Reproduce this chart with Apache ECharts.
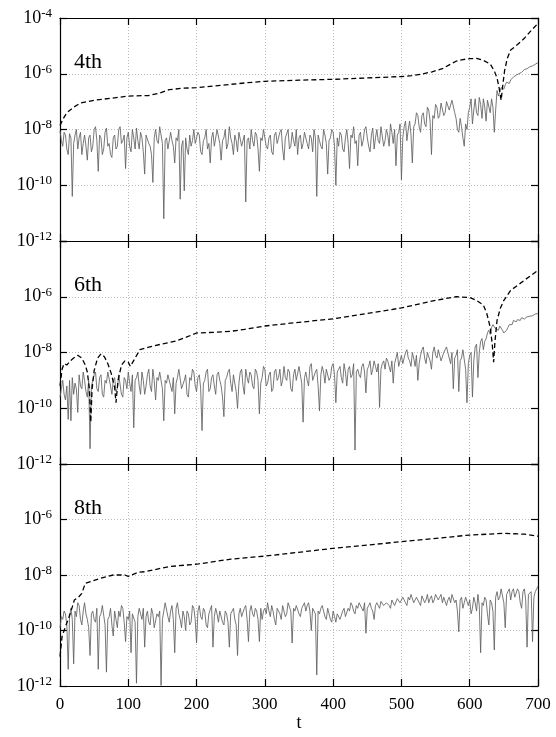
<!DOCTYPE html>
<html><head><meta charset="utf-8">
<script src="https://cdn.jsdelivr.net/npm/echarts@6/dist/echarts.min.js"></script>
<style>html,body{margin:0;padding:0;background:#fff}#c{width:556px;height:737px}</style>
</head><body><div id="c"></div>
<script>
// ---------------- data (values are log10 of the error) ----------------
const panelLabels = ['4th', '6th', '8th'];
const xAxisName = 't';
const tStepNoise = 2; // sampling step of the solid (noisy) curves, t = 0..700

const noise4th = [
-8.05,-8.4,-8.6,-8.1,-8.2,-8.7,-8.9,-8.15,-8.3,-10.4,-8.5,-8.2,-8.0,-8.7,-8.3,-8.1,-8.9,-8.5,-8.2,-8.6,
-9.1,-8.3,-8.2,-8.8,-8.6,-8.0,-7.9,-8.4,-9.5,-8.2,-8.3,-8.9,-8.7,-8.1,-7.95,-8.6,-8.5,-8.9,-9.0,-8.3,
-8.2,-8.7,-8.6,-8.0,-7.9,-8.5,-8.4,-8.2,-9.4,-8.3,-8.1,-8.6,-8.8,-8.0,-8.3,-8.7,-7.95,-8.4,-8.7,-8.1,
-8.3,-8.8,-9.6,-8.2,-8.2,-8.5,-8.6,-8.9,-9.9,-8.3,-8.0,-8.4,-8.5,-7.9,-7.85,-8.5,-11.2,-8.4,-8.3,-8.7,
-8.7,-8.1,-8.4,-8.6,-9.2,-8.3,-8.4,-8.0,-10.5,-8.6,-8.4,-10.2,-8.3,-8.7,-8.9,-8.2,-8.6,-8.4,-8.0,-8.5,
-8.5,-8.1,-8.2,-8.8,-8.9,-8.4,-8.3,-8.0,-8.7,-8.5,-9.2,-8.3,-8.1,-8.6,-8.6,-8.0,-8.0,-8.5,-9.1,-8.4,
-8.3,-8.0,-8.7,-8.5,-7.9,-8.3,-8.5,-8.9,-8.2,-8.4,-8.8,-8.1,-8.1,-8.6,-8.6,-8.2,-10.6,-8.4,-8.3,-8.7,
-8.0,-8.4,-8.6,-8.1,-8.2,-8.7,-9.5,-8.3,-8.4,-8.0,-8.0,-8.6,-8.7,-8.3,-8.2,-8.8,-8.9,-8.2,-8.1,-8.5,
-8.5,-8.1,-8.0,-8.7,-9.1,-8.3,-8.3,-8.0,-8.7,-8.6,-8.1,-8.4,-8.6,-8.0,-8.9,-8.3,-8.2,-8.7,-8.5,-8.1,
-8.1,-8.5,-8.7,-8.2,-8.3,-8.8,-8.0,-8.3,-10.4,-8.2,-8.4,-8.6,-8.7,-8.0,-8.2,-8.5,-9.6,-8.4,-8.3,-8.0,
-8.1,-8.6,-10.0,-8.3,-8.6,-8.1,-8.2,-8.7,-8.8,-8.3,-8.0,-8.5,-9.4,-8.2,-8.3,-7.9,-8.5,-8.4,-9.3,-8.2,
-8.1,-8.6,-8.4,-8.0,-7.9,-8.3,-8.6,-8.8,-8.2,-7.95,-8.7,-8.3,-8.0,-8.4,-8.5,-7.9,-7.9,-8.6,-8.4,-8.0,
-8.2,-8.6,-7.8,-8.1,-8.5,-8.0,-9.3,-8.2,-8.1,-7.8,-9.8,-8.3,-7.9,-7.7,-8.4,-8.0,-7.7,-8.2,-9.2,-7.9,
-7.8,-7.4,-7.5,-7.9,-8.1,-7.5,-7.4,-7.8,-7.9,-7.2,-7.3,-7.7,-8.9,-7.5,-7.6,-7.1,-7.2,-7.6,-7.5,-7.05,
-7.1,-7.5,-7.4,-7.0,-7.0,-7.3,-7.3,-6.95,-6.95,-7.4,-7.6,-8.0,-8.1,-7.6,-7.9,-8.3,-8.6,-7.8,-8.0,-7.4,
-7.2,-6.9,-7.8,-7.3,-6.9,-7.4,-7.5,-6.85,-7.1,-7.6,-6.9,-7.2,-7.7,-6.95,-7.0,-7.4,-6.9,-7.2,-8.1,-7.3,
-6.6,-6.8,-6.85,-6.5,-6.45,-6.55,-6.4,-6.3,-6.3,-6.35,-6.22,-6.15,-6.12,-6.1,-6.05,-6.02,-6.0,-5.96,-5.95,-5.9,
-5.85,-5.86,-5.82,-5.78,-5.75,-5.74,-5.72,-5.68,-5.66,-5.63,-5.6
];
const dashT4th = [0,5,10,20,30,50,75,100,130,145,160,180,200,225,250,275,300,350,400,450,500,515,530,545,560,570,580,590,600,610,620,630,636,640,643,646,648,651,655,660,670,680,690,700];
const dash4th  = [-7.86,-7.6,-7.4,-7.2,-7.05,-6.95,-6.88,-6.8,-6.78,-6.7,-6.57,-6.52,-6.5,-6.44,-6.38,-6.32,-6.27,-6.23,-6.2,-6.15,-6.1,-6.07,-6.01,-5.93,-5.82,-5.68,-5.55,-5.49,-5.46,-5.45,-5.52,-5.65,-5.9,-6.15,-6.5,-6.95,-6.5,-5.9,-5.45,-5.15,-4.95,-4.73,-4.45,-4.19];

const noise6th = [
-9.6,-9.3,-9.0,-9.5,-9.7,-9.2,-10.4,-9.0,-10.45,-8.9,-9.5,-9.1,-9.3,-10.15,-8.8,-9.2,-9.3,-8.7,-9.0,-9.4,
-9.6,-9.0,-11.45,-9.2,-9.0,-8.8,-8.7,-9.3,-9.4,-8.9,-8.8,-9.5,-9.6,-9.0,-9.1,-8.7,-8.7,-9.2,-9.5,-9.0,
-8.9,-9.4,-9.3,-8.8,-8.8,-9.5,-9.6,-8.9,-9.0,-9.3,-8.7,-9.1,-9.4,-8.8,-10.7,-9.0,-8.9,-8.7,-9.2,-9.5,
-8.7,-9.0,-9.5,-9.2,-8.8,-8.6,-9.2,-9.4,-8.6,-9.0,-9.7,-8.9,-9.0,-8.7,-8.7,-9.3,-10.45,-9.0,-9.1,-8.8,
-8.8,-9.2,-9.4,-8.9,-10.2,-9.1,-8.9,-8.6,-8.6,-9.3,-9.3,-9.0,-8.8,-9.5,-9.6,-8.9,-9.0,-8.6,-8.7,-9.2,
-9.4,-8.9,-8.8,-9.3,-10.8,-9.1,-9.0,-8.7,-8.6,-9.4,-9.3,-8.9,-8.8,-9.2,-9.5,-8.8,-8.7,-9.0,-9.2,-9.6,
-10.3,-9.0,-8.9,-8.7,-8.6,-9.1,-9.4,-8.8,-8.8,-9.4,-10.0,-9.1,-8.7,-8.6,-9.2,-9.5,-8.6,-8.9,-9.1,-8.7,
-8.8,-9.2,-9.3,-8.6,-8.7,-9.0,-10.2,-9.1,-8.9,-8.5,-8.6,-9.2,-9.1,-8.8,-8.7,-9.4,-9.3,-8.7,-8.6,-9.0,
-8.9,-8.6,-9.2,-9.0,-8.5,-8.9,-9.0,-8.6,-8.7,-9.3,-9.4,-8.8,-8.6,-9.0,-9.0,-8.5,-8.5,-9.1,-10.5,-8.9,
-8.7,-9.0,-9.2,-8.5,-8.4,-9.0,-9.0,-8.7,-8.6,-9.2,-10.1,-8.8,-8.5,-8.7,-9.1,-8.6,-8.6,-9.0,-8.9,-8.5,
-8.4,-8.8,-9.8,-8.7,-8.6,-8.5,-8.9,-9.1,-8.4,-8.7,-9.2,-8.6,-8.5,-8.9,-8.8,-8.4,-11.5,-8.7,-8.6,-8.8,
-8.9,-8.5,-8.4,-8.7,-9.45,-8.6,-8.5,-8.3,-8.8,-8.6,-8.3,-8.5,-8.7,-8.4,-9.97,-8.6,-8.4,-8.3,-8.6,-8.2,
-8.3,-8.5,-8.7,-8.3,-9.1,-8.4,-8.2,-8.0,-8.5,-8.3,-8.1,-8.4,-8.4,-8.0,-7.9,-8.2,-8.3,-8.5,-8.0,-8.2,
-8.5,-8.1,-9.0,-8.4,-8.1,-7.9,-7.8,-8.2,-8.4,-8.0,-8.0,-8.3,-8.6,-8.0,-7.8,-8.1,-8.2,-7.9,-7.9,-8.3,
-8.3,-8.0,-8.0,-7.8,-7.8,-8.2,-8.4,-8.0,-9.3,-8.2,-8.1,-7.9,-9.4,-8.3,-8.2,-7.9,-7.9,-8.6,-9.8,-8.4,
-8.1,-8.0,-9.6,-8.3,-7.8,-7.7,-8.9,-8.0,-7.6,-7.5,-7.9,-7.6,-7.5,-7.3,-7.2,-7.35,-7.1,-7.0,-7.0,-7.15,
-7.1,-7.2,-7.05,-7.1,-7.2,-7.3,-7.3,-7.2,-7.1,-7.0,-6.95,-7.0,-6.85,-6.9,-6.9,-6.82,-6.8,-6.85,-6.75,-6.78,
-6.8,-6.74,-6.72,-6.76,-6.7,-6.68,-6.68,-6.64,-6.62,-6.63,-6.6
];
const dashT6th = [0,3,6,10,15,20,26,32,37,40,43,45,47,50,55,60,65,70,75,80,82,85,90,95,100,103,110,117,130,150,170,185,200,230,250,270,300,330,400,450,500,550,580,600,610,620,625,630,633,635,637,640,645,650,660,680,700];
const dash6th  = [-9.2,-8.6,-8.4,-8.45,-8.3,-8.2,-8.1,-8.2,-8.45,-8.7,-9.3,-10.5,-9.3,-8.65,-8.2,-8.05,-8.15,-8.4,-8.75,-9.25,-9.8,-9.0,-8.45,-8.3,-8.35,-8.5,-8.2,-7.9,-7.81,-7.69,-7.59,-7.45,-7.3,-7.27,-7.24,-7.17,-7.05,-6.97,-6.79,-6.6,-6.4,-6.13,-6.0,-6.03,-6.13,-6.3,-6.6,-7.09,-7.7,-8.35,-7.6,-6.85,-6.4,-6.13,-5.77,-5.41,-5.05];

const noise8th = [
-9.9,-9.5,-9.6,-9.3,-9.4,-9.8,-11.4,-9.5,-9.2,-9.6,-11.2,-9.3,-9.5,-9.0,-9.1,-9.6,-9.8,-9.3,-9.0,-9.4,
-9.6,-9.9,-10.9,-9.4,-9.3,-9.6,-9.7,-9.2,-11.4,-9.5,-9.4,-9.1,-9.1,-9.8,-11.5,-9.6,-9.5,-9.2,-9.8,-10.2,
-9.3,-9.6,-9.9,-9.3,-9.5,-9.1,-9.2,-9.7,-10.4,-9.5,-9.6,-9.3,-10.8,-9.4,-9.4,-9.7,-11.9,-9.5,-9.2,-9.4,
-9.6,-9.2,-10.6,-9.5,-9.3,-9.7,-9.8,-9.2,-9.4,-9.9,-9.9,-9.4,-9.5,-9.3,-11.98,-9.6,-9.3,-9.0,-9.0,-9.5,
-9.7,-9.3,-9.1,-9.6,-10.8,-9.2,-9.0,-9.4,-9.6,-9.9,-9.3,-9.5,-10.0,-9.3,-9.4,-9.8,-9.7,-9.1,-9.2,-9.6,
-10.45,-9.3,-9.1,-9.5,-9.6,-9.2,-9.3,-9.8,-9.9,-9.4,-9.4,-9.1,-10.6,-9.5,-9.2,-9.4,-9.7,-9.3,-9.3,-9.7,
-9.8,-9.3,-9.4,-9.7,-10.6,-9.4,-9.3,-9.2,-9.6,-9.8,-10.9,-9.4,-9.2,-9.5,-9.5,-9.2,-9.1,-9.6,-10.4,-9.3,
-9.1,-9.4,-9.5,-9.2,-9.3,-9.6,-10.4,-9.2,-9.6,-9.3,-9.2,-9.4,-9.0,-9.3,-9.5,-9.1,-9.3,-9.6,-9.8,-9.2,
-9.2,-9.4,-9.6,-9.1,-9.1,-9.5,-9.4,-9.0,-9.0,-9.3,-10.45,-9.2,-9.3,-9.1,-9.1,-9.4,-9.5,-9.2,-9.2,-9.0,
-9.3,-9.1,-9.0,-9.3,-10.0,-9.2,-9.2,-9.4,-11.6,-9.3,-9.4,-9.2,-9.1,-9.3,-9.5,-9.6,-9.2,-9.4,-9.6,-9.7,
-9.3,-9.5,-9.7,-9.4,-9.4,-9.6,-9.6,-9.3,-9.2,-9.5,-9.5,-9.2,-9.3,-9.0,-9.1,-9.3,-9.4,-9.1,-9.2,-9.0,
-9.0,-9.2,-9.3,-9.0,-10.1,-9.2,-9.1,-9.0,-9.2,-9.3,-9.6,-9.1,-9.0,-9.1,-9.2,-8.95,-8.9,-9.1,-9.1,-9.0,
-9.0,-9.1,-9.2,-8.9,-8.95,-9.1,-9.1,-8.85,-8.9,-9.0,-9.0,-8.8,-8.8,-9.0,-9.1,-8.8,-8.9,-8.7,-8.7,-9.0,
-9.0,-8.8,-8.8,-9.0,-9.1,-8.75,-8.7,-9.0,-8.9,-8.7,-9.0,-8.85,-8.75,-9.0,-8.9,-8.7,-8.65,-8.9,-8.8,-8.7,
-9.0,-8.8,-8.8,-9.1,-8.9,-8.8,-9.0,-8.7,-8.7,-9.0,-8.9,-9.3,-10.05,-8.9,-8.8,-9.2,-9.0,-8.8,-8.75,-9.1,
-8.9,-9.4,-9.2,-8.8,-9.0,-9.3,-8.7,-9.1,-10.8,-9.0,-9.1,-8.8,-8.9,-9.4,-9.8,-8.9,-9.0,-9.3,-10.7,-8.8,
-8.6,-8.9,-8.8,-8.5,-8.5,-9.0,-9.9,-8.7,-8.6,-8.5,-8.9,-8.6,-8.5,-8.8,-8.8,-8.5,-8.6,-9.0,-9.2,-8.6,
-8.5,-8.9,-10.6,-8.7,-8.7,-8.6,-10.4,-8.8,-8.6,-8.5,-8.4
];
const dashT8th = [0,3,8,12,15,18,21,27,32,37,45,60,78,95,100,115,125,159,203,250,300,400,500,600,650,680,700];
const dash8th  = [-10.94,-10.22,-9.86,-9.6,-9.38,-9.15,-8.9,-8.8,-8.66,-8.3,-8.24,-8.11,-8.0,-8.0,-8.05,-7.9,-7.88,-7.7,-7.6,-7.43,-7.32,-7.04,-6.8,-6.56,-6.5,-6.53,-6.6];

const noiseSets = [noise4th, noise6th, noise8th];
const dashTSets = [dashT4th, dashT6th, dashT8th];
const dashSets  = [dash4th, dash6th, dash8th];

// ---------------- chart ----------------
const FONT = 'Liberation Serif';
const grids = [
  {left: 60, right: 18, top: 18, height: 223},
  {left: 60, right: 18, top: 241, height: 223},
  {left: 60, right: 18, top: 464, height: 222}
];
const lineBlack = {color: '#000', width: 1.2};
const xAxes = [], yAxes = [], series = [], titles = [];

grids.forEach((g, i) => {
  const isBottom = i === grids.length - 1;
  xAxes.push({
    type: 'value', gridIndex: i, min: 0, max: 700, interval: 100, position: 'bottom',
    axisLine: {show: true, onZero: false, lineStyle: lineBlack},
    axisTick: {show: true, inside: true, length: 7, lineStyle: lineBlack},
    splitLine: {show: true, lineStyle: {color: '#bcbcbc', type: [1, 2], width: 1}},
    axisLabel: {show: isBottom, fontFamily: FONT, fontSize: 17, color: '#000', margin: 10},
    name: isBottom ? xAxisName : '', nameLocation: 'middle', nameGap: 26,
    nameTextStyle: {fontFamily: FONT, fontSize: 18, color: '#000'}
  });
  xAxes.push({
    type: 'value', gridIndex: i, min: 0, max: 700, interval: 100, position: 'top',
    axisLine: {show: true, onZero: false, lineStyle: lineBlack},
    axisTick: {show: true, inside: true, length: 7, lineStyle: lineBlack},
    splitLine: {show: false}, axisLabel: {show: false}
  });
  yAxes.push({
    type: 'log', logBase: 100, gridIndex: i, min: 1e-12, max: 1e-4, position: 'left',
    axisLine: {show: true, onZero: false, lineStyle: lineBlack},
    axisTick: {show: true, inside: true, length: 7, lineStyle: lineBlack},
    minorTick: {show: false},
    splitLine: {show: true, lineStyle: {color: '#bcbcbc', type: [1, 2], width: 1}},
    axisLabel: {
      margin: 8,
      formatter: v => {
        const e = Math.round(Math.log10(v));
        if (i > 0 && e === -4) return '';
        return '{b|10}{s|' + e + '}';
      },
      rich: {
        b: {fontFamily: FONT, fontSize: 18, color: '#000', lineHeight: 22},
        s: {fontFamily: FONT, fontSize: 13, color: '#000', lineHeight: 12, verticalAlign: 'top'}
      }
    }
  });
  yAxes.push({
    type: 'log', logBase: 100, gridIndex: i, min: 1e-12, max: 1e-4, position: 'right',
    axisLine: {show: true, onZero: false, lineStyle: lineBlack},
    axisTick: {show: true, inside: true, length: 7, lineStyle: lineBlack},
    minorTick: {show: false}, splitLine: {show: false}, axisLabel: {show: false}
  });
  series.push({
    type: 'line', xAxisIndex: 2 * i, yAxisIndex: 2 * i, showSymbol: false, symbol: 'none',
    data: noiseSets[i].map((e, k) => [k * tStepNoise, Math.pow(10, e)]),
    lineStyle: {color: '#606060', width: 0.85}, z: 2, silent: true
  });
  series.push({
    type: 'line', xAxisIndex: 2 * i, yAxisIndex: 2 * i, showSymbol: false, symbol: 'none',
    data: dashSets[i].map((e, k) => [dashTSets[i][k], Math.pow(10, e)]),
    lineStyle: {color: '#000', width: 1.3, type: [5, 3]}, z: 3, silent: true
  });
  titles.push({
    text: panelLabels[i], left: 74, top: g.top + 33, padding: 0,
    textStyle: {fontFamily: FONT, fontSize: 22, fontWeight: 'normal', color: '#000'}
  });
});

const chart = echarts.init(document.getElementById('c'), null, {renderer: 'canvas'});
chart.setOption({
  animation: false,
  backgroundColor: '#fff',
  title: titles,
  grid: grids,
  xAxis: xAxes,
  yAxis: yAxes,
  series: series
});
</script>
</body></html>
